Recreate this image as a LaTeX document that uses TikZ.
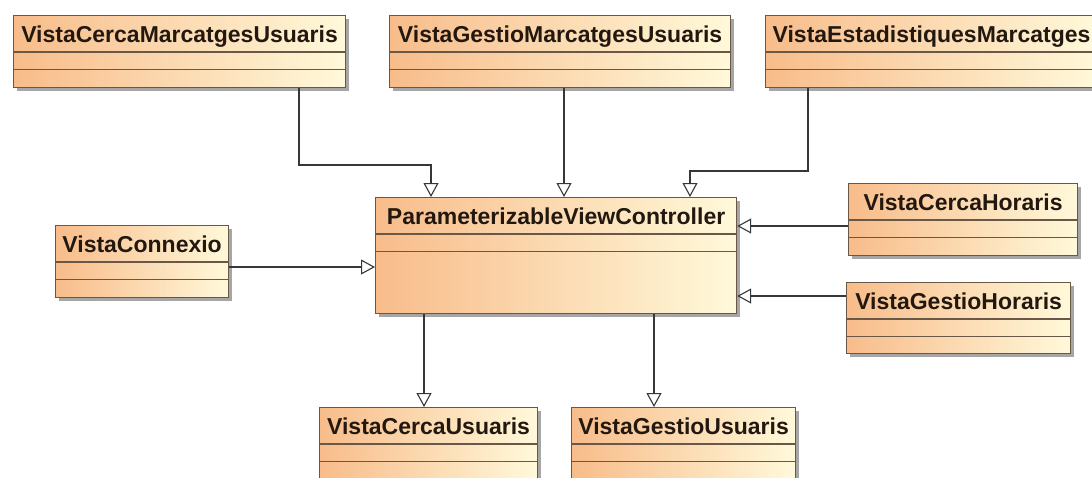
\documentclass[tikz,border=0pt]{standalone}
\usepackage{fontspec}
\setmainfont{Liberation Sans}
\usetikzlibrary{arrows.meta,shadows,calc}

\definecolor{boxleft}{RGB}{248,188,138}
\definecolor{boxmid}{RGB}{252,218,172}
\definecolor{boxright}{RGB}{255,249,218}
\definecolor{boxedge}{RGB}{105,88,72}
\definecolor{wire}{RGB}{55,55,55}
\definecolor{titleink}{RGB}{35,24,15}

\tikzset{
  classbox/.style={rectangle, anchor=north west, draw=boxedge, line width=1.2pt,
    left color=boxleft, middle color=boxmid, right color=boxright, inner sep=0pt,
    drop shadow={shadow xshift=3pt, shadow yshift=-3pt, fill=black, opacity=0.35}},
  classname/.style={anchor=base, inner sep=0pt, text=titleink,
    font=\fontsize{23}{26}\selectfont\bfseries},
  compart/.style={draw=boxedge, line width=1.2pt},
  gen/.style={draw=wire, line width=1.4pt,
    -{Triangle[open, length=14pt, width=15pt, fill=white, line width=1.1pt]}},
}

% class box: name, x, y (top-left), width, height, title
\newcommand\umlclass[6]{%
  \node[classbox, minimum width=#4pt, minimum height=#5pt] (#1) at (#2,#3) {};
  \node[classname] (#1-name) at ([yshift=-27pt]#1.north) {#6};
  \draw[compart] ([yshift=-37pt]#1.north west) -- ([yshift=-37pt]#1.north east);
  \draw[compart] ([yshift=-54.5pt]#1.north west) -- ([yshift=-54.5pt]#1.north east);
}

\begin{document}
\begin{tikzpicture}[x=1pt, y=-1pt]
\path[use as bounding box, clip] (0,0) rectangle (1092,477);
\fill[white] (0,0) rectangle (1092,477);

\umlclass{cmu}{13}{15}{332}{72}{VistaCercaMarcatgesUsuaris}
\umlclass{gmu}{389}{15}{341}{72}{VistaGestioMarcatgesUsuaris}
\umlclass{emu}{765}{15}{332}{72}{VistaEstadistiquesMarcatges}
\umlclass{pvc}{375}{197}{361}{116}{ParameterizableViewController}
\umlclass{ch}{848}{183}{229}{72}{VistaCercaHoraris}
\umlclass{gh}{846}{282}{224}{71}{VistaGestioHoraris}
\umlclass{con}{55}{225}{173}{72}{VistaConnexio}
\umlclass{cu}{319}{407}{218}{100}{VistaCercaUsuaris}
\umlclass{gu}{571}{407}{224}{100}{VistaGestioUsuaris}

% bend points of the routed connectors
\coordinate (k1) at (431,165);
\coordinate (k3) at (690,171);

% generalisations into the controller
\draw[gen] ([xshift=286pt]cmu.south west) |- (k1) -- (k1 |- pvc.north);
\draw[gen] ([xshift=175pt]gmu.south west) -- ([xshift=175pt]gmu.south west |- pvc.north);
\draw[gen] ([xshift=43pt]emu.south west) |- (k3) -- (k3 |- pvc.north);
\draw[gen] ([yshift=-43pt]ch.north west) -- ([yshift=-43pt]ch.north west -| pvc.east);
\draw[gen] ([yshift=-14pt]gh.north west) -- ([yshift=-14pt]gh.north west -| pvc.east);
\draw[gen] ([yshift=-42pt]con.north east) -- ([yshift=-42pt]con.north east -| pvc.west);
\draw[gen] ([xshift=49pt]pvc.south west) -- ([xshift=49pt]pvc.south west |- cu.north);
\draw[gen] ([xshift=279pt]pvc.south west) -- ([xshift=279pt]pvc.south west |- gu.north);
\end{tikzpicture}
\end{document}
